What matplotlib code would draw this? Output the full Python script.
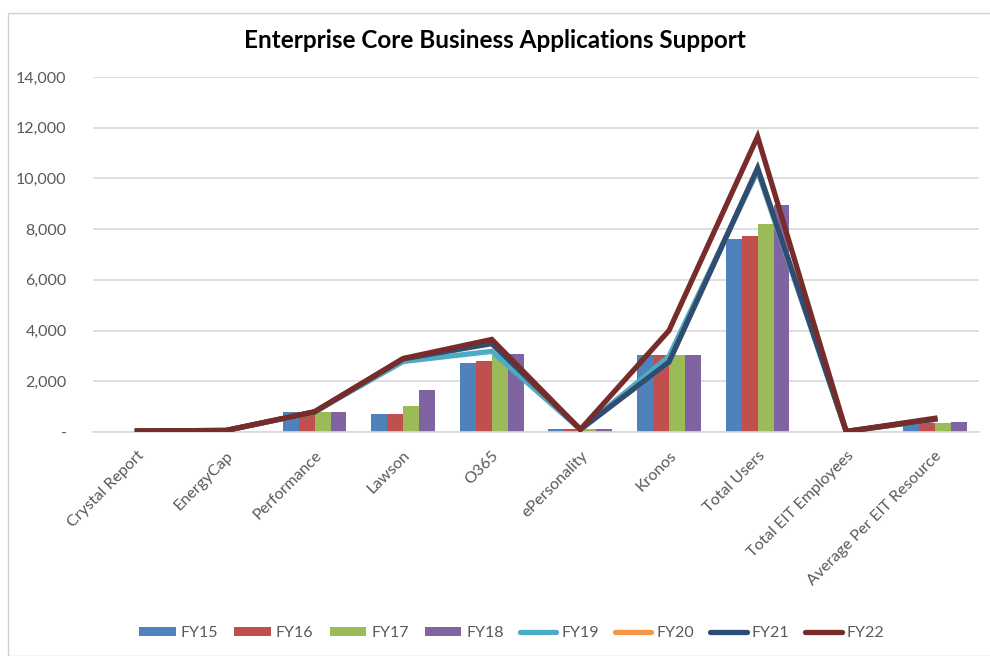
import numpy as np
import matplotlib.pyplot as plt
from matplotlib.ticker import FuncFormatter
from matplotlib.lines import Line2D
from matplotlib.patches import Patch, Rectangle

plt.rcParams['font.family'] = ['Lato', 'DejaVu Sans']

categories = ['Crystal Report', 'EnergyCap', 'Performance', 'Lawson', 'O365',
              'ePersonality', 'Kronos', 'Total Users', 'Total EIT Employees',
              'Average Per EIT Resource']

# bar series
fy15 = [0, 0, 790, 700, 2720, 100, 3050, 7600, 0, 350]
fy16 = [0, 0, 790, 700, 2800, 100, 3050, 7720, 0, 370]
fy17 = [0, 0, 790, 1010, 2980, 100, 3050, 8200, 0, 360]
fy18 = [0, 0, 790, 1650, 3080, 100, 3050, 8950, 0, 400]

# line series
fy19 = [40, 60, 790, 2780, 3180, 100, 2980, 10300, 20, 500]
fy20 = [40, 60, 790, 2880, 3480, 100, 2760, 10400, 20, 500]
fy21 = [40, 60, 790, 2880, 3490, 100, 2760, 10400, 20, 500]
fy22 = [40, 60, 800, 2900, 3650, 100, 4000, 11650, 20, 540]

bar_series = [('FY15', fy15, '#4F81BD'), ('FY16', fy16, '#C0504D'),
              ('FY17', fy17, '#9BBB59'), ('FY18', fy18, '#8064A2')]
line_series = [('FY19', fy19, '#4BACC6'), ('FY20', fy20, '#F79646'),
               ('FY21', fy21, '#2C4D75'), ('FY22', fy22, '#772C2A')]

text_color = '#595959'
grid_color = '#D9D9D9'

fig = plt.figure(figsize=(9.9, 6.56), dpi=100)
ax = fig.add_axes([0.094, 0.3415, 0.895, 0.5411])

x = np.arange(len(categories))
w = 0.18
offsets = [-1.5 * w, -0.5 * w, 0.5 * w, 1.5 * w]
for (name, vals, col), off in zip(bar_series, offsets):
    ax.bar(x + off, vals, width=w, color=col, zorder=2)

for name, vals, col in line_series:
    ax.plot(x, vals, color=col, lw=3.8, solid_joinstyle='miter', zorder=3)

ax.set_xlim(-0.5, len(categories) - 0.5)
ax.set_ylim(0, 14000)
ax.set_yticks(np.arange(0, 14001, 2000))
ax.yaxis.set_major_formatter(FuncFormatter(lambda v, p: '-' if v == 0 else f'{int(v):,}'))
ax.grid(axis='y', color=grid_color, lw=1.2, zorder=0)
ax.set_axisbelow(True)
for s in ['top', 'right', 'left']:
    ax.spines[s].set_visible(False)
ax.spines['bottom'].set_color(grid_color)
ax.spines['bottom'].set_linewidth(1.2)
ax.tick_params(axis='y', length=0, pad=19, labelsize=11.5, labelcolor=text_color)
ax.tick_params(axis='x', length=0, pad=12, labelsize=11.5, labelcolor=text_color)
ax.set_xticks(x)
ax.set_xticklabels(categories, rotation=45, ha='right', rotation_mode='anchor')

fig.text(0.5, 0.938, 'Enterprise Core Business Applications Support',
         ha='center', va='center', fontsize=17.5, fontweight='bold', color='black')

handles = [Patch(facecolor=c, label=n) for n, v, c in bar_series]
handles += [Line2D([0], [0], color=c, lw=3.8, solid_capstyle='round', label=n)
            for n, v, c in line_series]
fig.legend(handles=handles, loc='center', bbox_to_anchor=(0.517, 0.035), ncol=8,
           frameon=False, fontsize=11.5, labelcolor=text_color,
           handlelength=2.3, handleheight=0.55, columnspacing=1.0, handletextpad=0.3)

# chart border
fig.patches.append(Rectangle((8 / 990, 0), 1, 1 - 13 / 656, transform=fig.transFigure,
                             fill=False, edgecolor='#D0D0D0', lw=1))

fig.savefig('out.png', dpi=100)
